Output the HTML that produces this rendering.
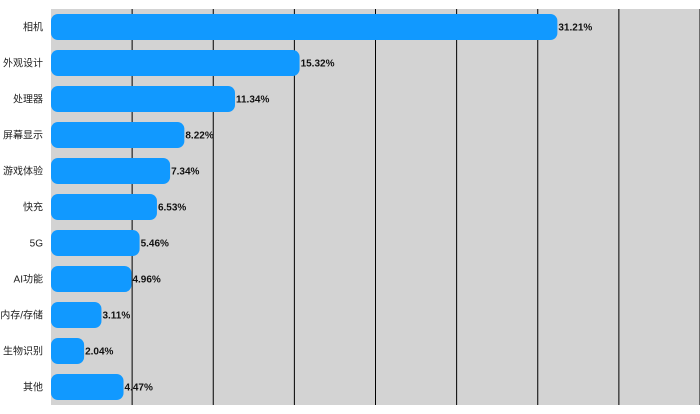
<!DOCTYPE html>
<html><head><meta charset="utf-8"><style>
body{margin:0;background:#fff;}
svg text{font-family:"Liberation Sans","Noto Sans CJK SC",sans-serif;font-size:10px;}
</style></head><body>
<svg width="700" height="409" xmlns="http://www.w3.org/2000/svg">
<rect x="51" y="9" width="649" height="396" fill="#d3d3d3"/>
<g id="grid"></g><g id="bars"></g>
</svg>
<script>
const categories=["相机","外观设计","处理器","屏幕显示","游戏体验","快充","5G","AI功能","内存/存储","生物识别","其他"];
const values=[31.21,15.32,11.34,8.22,7.34,6.53,5.46,4.96,3.11,2.04,4.47];
const gridTicks=[5,10,15,20,25,30,35,40];
const plotX0=51,plotX1=700,xMax=40,plotTop=9,band=36,barH=26;
const xs=v=>plotX0+(plotX1-plotX0)*v/xMax;
const ns="http://www.w3.org/2000/svg";
const gridG=document.getElementById('grid'),barsG=document.getElementById('bars');
gridTicks.forEach(t=>{const l=document.createElementNS(ns,'line');
l.setAttribute('x1',xs(t));l.setAttribute('x2',xs(t));l.setAttribute('y1',plotTop);l.setAttribute('y2',plotTop+band*categories.length);
l.setAttribute('stroke','#000');l.setAttribute('stroke-width','1');


gridG.appendChild(l);});
categories.forEach((c,i)=>{const y=plotTop+i*band+(band-barH)/2;
const r=document.createElementNS(ns,'rect');
r.setAttribute('x',plotX0);r.setAttribute('y',y);r.setAttribute('width',xs(values[i])-plotX0);r.setAttribute('height',barH);
r.setAttribute('rx','7');r.setAttribute('fill','#1199ff');


barsG.appendChild(r);
const t=document.createElementNS(ns,'text');
t.setAttribute('x',43);t.setAttribute('y',y+barH/2+3.5);t.setAttribute('text-anchor','end');t.setAttribute('fill','#222');
t.textContent=c;


barsG.appendChild(t);
const v=document.createElementNS(ns,'text');
v.setAttribute('x',xs(values[i])+1);v.setAttribute('y',y+barH/2+3.5);v.setAttribute('font-weight','bold');v.setAttribute('fill','#111');
v.textContent=values[i].toFixed(2)+'%';


barsG.appendChild(v);});
</script>
</body></html>
